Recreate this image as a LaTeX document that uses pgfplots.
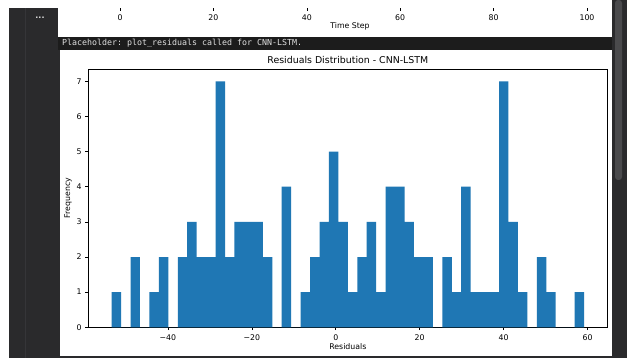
\documentclass[border=0pt]{standalone}
\usepackage{fontspec}
\setmainfont{DejaVu Sans}
\setmonofont{DejaVu Sans Mono}
\usepackage{pgfplots}
\pgfplotsset{compat=1.18}
\definecolor{mplblue}{HTML}{1F77B4}
\definecolor{gutter}{HTML}{2A2A2C}
\definecolor{gutterline}{HTML}{353538}
\definecolor{outbar}{HTML}{1C1C1C}
\definecolor{scrollc}{HTML}{4A4A4C}
\definecolor{outtext}{HTML}{E0E0E0}
\begin{document}
\begin{tikzpicture}[x=1pt,y=1pt]
\useasboundingbox (0,0) rectangle (627,358);
\clip (0,0) rectangle (627,358);
\fill[white] (0,0) rectangle (627,358);
% notebook gutter
\fill[gutter] (9,0) rectangle (58,350);
\draw[gutterline, line width=0.6pt] (25,0) -- (25,350);
\node[text=outtext, font=\bfseries\fontsize{8}{10}\selectfont, inner sep=0] at (40,340) {...};
% right dark strip with scrollbar
\fill[gutter] (612,0) rectangle (627,358);
\fill[scrollc, rounded corners=3pt] (615,178) rectangle (622,358);
% bottom strip and panel border
\fill[gutter] (58,0) rectangle (612,2);
\fill[gutter] (58,0) rectangle (60,308);
% output line
\fill[outbar] (58,308) rectangle (612,321);
\node[anchor=west, font=\ttfamily\fontsize{8.3}{10}\selectfont, text=outtext, inner sep=0] at (62,314.5) {Placeholder: plot\_residuals called for CNN-LSTM.};

% top (previous) plot, only its x axis visible
\begin{axis}[
  at={(100pt,350pt)}, anchor=south west, scale only axis,
  width=500pt, height=20pt,
  xmin=-4.28, xmax=102.78, ymin=0, ymax=1,
  axis x line*=bottom, hide y axis,
  x axis line style={draw=none},
  xtick={0,20,40,60,80,100},
  tick align=outside, major tick length=2.8pt,
  tick style={black, line width=0.6pt},
  ticklabel style={font=\fontsize{7.8}{9}\selectfont},
  xlabel={Time Step},
  xlabel style={yshift=4.5pt},
  label style={font=\fontsize{7.8}{9}\selectfont},
  /pgf/number format/assume math mode=true,
]
\end{axis}

% main histogram
\begin{axis}[
  at={(88pt,30.7pt)}, anchor=south west, scale only axis,
  width=519.7pt, height=258.3pt,
  xmin=-59.03, xmax=64.79, ymin=0, ymax=7.35,
  xtick={-40,-20,0,20,40,60},
  xticklabels={−40,−20,0,20,40,60},
  ytick={0,1,2,3,4,5,6,7},
  xtick pos=left, ytick pos=left,
  tick align=outside, major tick length=2.8pt,
  tick style={black, line width=0.6pt},
  axis line style={black, line width=0.6pt},
  ticklabel style={font=\fontsize{7.8}{9}\selectfont},
  xticklabel style={yshift=-1.4pt},
  /pgf/number format/assume math mode=true,
  title={Residuals Distribution - CNN-LSTM},
  title style={at={(axis description cs:0.5,1)}, anchor=south, yshift=-4.5pt, font=\fontsize{9.4}{11}\selectfont},
  xlabel={Residuals},
  xlabel style={at={(axis description cs:0.5,-0.0763)}, anchor=center, font=\fontsize{7.8}{9}\selectfont},
  ylabel={Frequency},
  ylabel style={at={(axis description cs:-0.0385,0.5)}, anchor=center, font=\fontsize{7.8}{9}\selectfont},
]
\addplot[ybar interval, fill=mplblue, draw=none] coordinates {
(-53.400,1) (-51.149,0) (-48.898,2) (-46.646,0) (-44.395,1)
(-42.144,2) (-39.893,0) (-37.642,2) (-35.390,3) (-33.139,2)
(-30.888,2) (-28.637,7) (-26.386,2) (-24.134,3) (-21.883,3)
(-19.632,3) (-17.381,2) (-15.130,0) (-12.878,4) (-10.627,0)
(-8.376,1) (-6.125,2) (-3.874,3) (-1.622,5) (0.629,3)
(2.880,1) (5.131,2) (7.382,3) (9.634,1) (11.885,4)
(14.136,4) (16.387,3) (18.638,2) (20.890,2) (23.141,0)
(25.392,2) (27.643,1) (29.894,4) (32.146,1) (34.397,1)
(36.648,1) (38.899,7) (41.150,3) (43.402,1) (45.653,0)
(47.904,2) (50.155,1) (52.406,0) (54.658,0) (56.909,1)
(59.160,1)
};
\end{axis}
\end{tikzpicture}
\end{document}
